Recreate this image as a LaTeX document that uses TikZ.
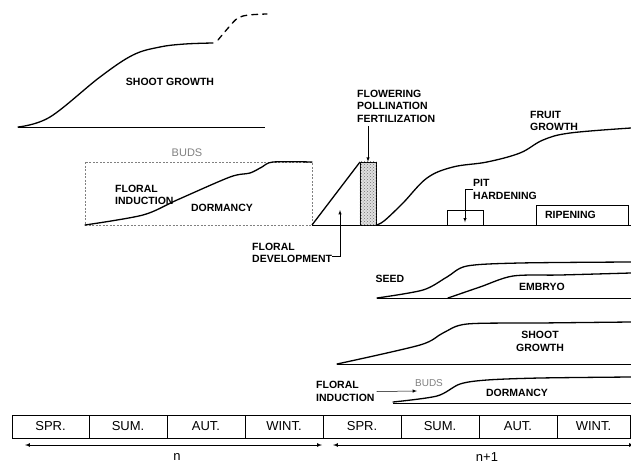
\documentclass[tikz,border=0pt]{standalone}
\usepackage{fontspec}
\setmainfont{Liberation Sans}
\usetikzlibrary{positioning, calc, patterns}

\begin{document}
\begin{tikzpicture}[
          x = 1pt, y = -1pt,
          curve/.style = {draw, line width = 1.3pt, line cap = round},
          base/.style = {draw, line width = 0.6pt},
          pointer/.style = {draw, line width = 0.5pt, -latex},
          lab/.style = {font = \fontsize{10.5}{12.5}\selectfont\bfseries, align = left, inner sep = 0},
          buds/.style = {font = \fontsize{11}{12}\selectfont, text = gray, inner sep = 0}
        ]
          \tikzstyle {season} = [draw, line width = 0.6pt, minimum height = 23pt, inner sep = 0,
                                 font = \fontsize{13}{14}\selectfont]
          \tikzstyle {phasebox} = [draw, line width = 0.6pt, inner sep = 0]
          \useasboundingbox (0,0) rectangle (631,463);
          % year n : shoot growth
          \draw [base] (18,127) -- (265,127);
          \draw [curve] plot [smooth, tension = 0.6] coordinates
            {(18,127) (50,117) (100,77) (133,55) (160,47) (185,44) (213,43)};
          \draw [curve, dash pattern = on 6pt off 5pt] plot [smooth, tension = 0.6] coordinates
            {(218,40) (229,27) (238,18) (249,15) (267,14)};
          \path node (shoot) [lab] at (170,82) {SHOOT GROWTH};
          % year n : buds
          \draw [dashed, line width = 0.5pt, gray, dash pattern = on 2pt off 1.5pt] (85,162) rectangle (312,225);
          \draw [curve] plot [smooth, tension = 0.5] coordinates
            {(85,225) (143,215) (177,200) (230,177) (250,173) (262,167) (273,162) (312,162)};
          \path node (buds) [buds] at (187,153) {BUDS};
          \path node (induct) [lab, anchor = west] at (115,195) {FLORAL\\INDUCTION};
          \path node (dorm) [lab] at (222,208) {DORMANCY};
          % flowering and fruit growth
          \draw [base] (312,225) -- (631,225);
          \draw [curve, line cap = butt] (312,225) -- (360,162);
          \path node (hatch) [phasebox, fill = gray!25, minimum width = 16pt, minimum height = 63pt] at (368,193.5) {};
          \fill [pattern = crosshatch dots, pattern color = gray!90!black] (hatch.south west) rectangle (hatch.north east);
          \draw [curve] plot [smooth, tension = 0.6] coordinates
            {(376,225) (384,221) (403,203) (427,178) (453,167) (487,162) (520,153) (543,140) (570,133) (631,128)};
          \path node (fdev) [lab, anchor = west] at (252,253) {FLORAL\\DEVELOPMENT};
          \coordinate (fdtip) at (340,210);
          \draw [pointer] ([yshift = -3pt] fdev.east) -| (fdtip);
          \path node (flw) [lab, anchor = west] at (357,106) {FLOWERING\\POLLINATION\\FERTILIZATION};
          \draw [pointer] (hatch.north |- flw.south) ++(0,4) -- (hatch.north);
          \path node (fruit) [lab, anchor = west] at (530,121) {FRUIT\\GROWTH};
          \path node (pit) [phasebox, minimum width = 36pt, minimum height = 15pt] at (465,217.5) {};
          \path node (pittxt) [lab, anchor = west] at (473,189.5) {PIT\\HARDENING};
          \draw [pointer] (pittxt.west) -| ([yshift = 3pt] pit.south);
          \path node (ripe) [phasebox, lab, minimum height = 20pt, text width = 74pt,
                             inner xsep = 9pt] at (582,215) {RIPENING};
          % year n+1 : seed and embryo
          \draw [base] (377,298) -- (631,298);
          \draw [curve] plot [smooth, tension = 0.5] coordinates
            {(377,298) (423,290) (447,277) (467,266) (520,263) (631,262)};
          \draw [curve] plot [smooth, tension = 0.5] coordinates
            {(448,298) (480,287) (513,276) (560,275) (631,273)};
          \path node (seed) [lab] at (390,279) {SEED};
          \path node (embryo) [lab] at (542,287) {EMBRYO};
          % year n+1 : shoot growth
          \draw [base] (337,364) -- (631,364);
          \draw [curve] plot [smooth, tension = 0.5] coordinates
            {(337,364) (420,345) (443,333) (467,324) (540,323) (631,322)};
          \path node (shoot2) [lab, align = center] at (540,341.5) {SHOOT\\GROWTH};
          % year n+1 : buds
          \draw [base] (393,403) -- (631,403);
          \draw [curve] plot [smooth, tension = 0.5] coordinates
            {(393,402) (437,396) (460,384) (487,380) (540,378) (631,377)};
          \path node (induct2) [lab, anchor = west] at (316,391.5) {FLORAL\\INDUCTION};
          \path node (buds2) [buds, font = \fontsize{10}{11}\selectfont] at (429,383) {BUDS};
          \coordinate (budtip) at (417,391);
          \draw [pointer] ([xshift = 2pt] induct2.east) -- (budtip);
          \path node (dorm2) [lab] at (517,393) {DORMANCY};
          % seasons
          \foreach \a/\b/\t/\n in {12/89/SPR./s1, 89/167/SUM./s2, 167/245/AUT./s3, 245/323/WINT./s4,
                                   323/401/SPR./s5, 401/479/SUM./s6, 479/557/AUT./s7, 557/630/WINT./s8}
            { \path node (\n) [season, minimum width = {(\b-\a)*1pt}] at ({(\a+\b)/2},426.5) {\t}; } ;
          % years
          \coordinate (n0) at (25,445);
          \coordinate (n1) at (322,445);
          \coordinate (m0) at (333,445);
          \coordinate (m1) at (634,445);
          \draw [line width = 0.7pt, latex-latex] (n0) -- (n1);
          \draw [line width = 0.7pt, latex-latex] (m0) -- (m1);
          \path node (yn) [font = \fontsize{13}{14}\selectfont] at (177,457) {n};
          \path node (yn1) [font = \fontsize{13}{14}\selectfont] at (487,457) {n+1};
        \end{tikzpicture}
\end{document}
